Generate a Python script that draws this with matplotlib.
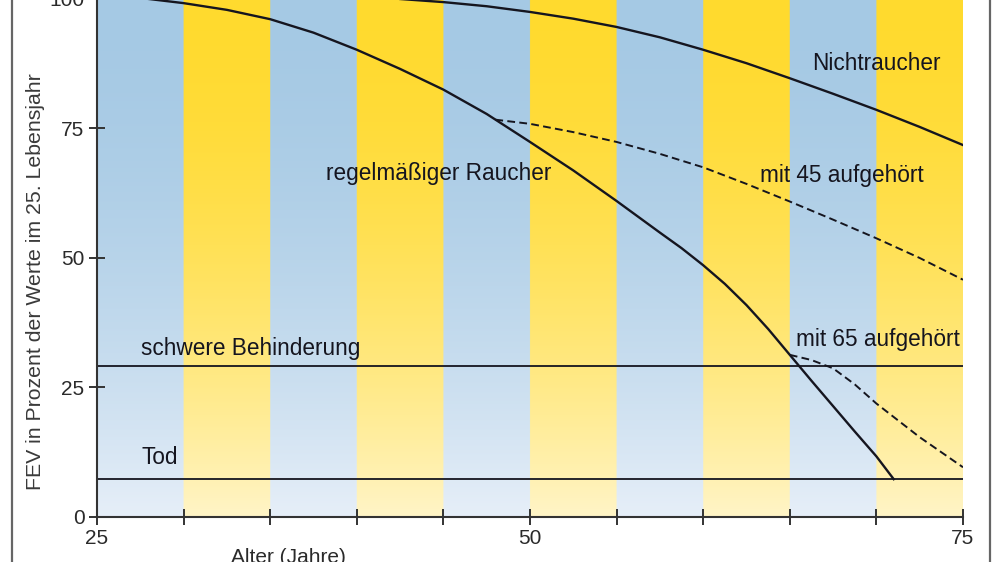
import matplotlib
matplotlib.use("Agg")
import matplotlib.pyplot as plt
import matplotlib.lines as mlines
import numpy as np

plt.rcParams['font.family'] = ['Liberation Sans', 'DejaVu Sans']

# ---------------------------------------------------------------
# data (age in years, FEV in % of age 25)
# ---------------------------------------------------------------
nonsmoker_age = [25, 40, 42.5, 45, 47.5, 50, 52.5, 55, 57.5, 60, 62.5, 65, 67.5, 70, 72.5, 75]
nonsmoker_fev = [101, 100.6, 100.0, 99.4, 98.6, 97.5, 96.2, 94.6, 92.6, 90.2, 87.6, 84.7, 81.7, 78.6, 75.3, 71.8]

smoker_age = [25, 28, 30, 32.5, 35, 37.5, 40, 42.5, 45, 47.5, 50, 52.5, 55, 57.5,
              58.75, 60, 61.25, 62.5, 63.75, 65, 66.25, 67.5, 68.75, 70, 71.0]
smoker_fev = [100.5, 100.0, 99.2, 97.9, 96.1, 93.5, 90.2, 86.5, 82.5, 77.8, 72.4, 66.9, 61.0, 54.9,
              51.9, 48.6, 45.0, 40.9, 36.3, 31.3, 26.3, 21.4, 16.5, 11.7, 7.3]

quit45_age = [48, 50, 52.5, 55, 57.5, 60, 62.5, 65, 67.5, 70, 72.5, 75]
quit45_fev = [76.7, 75.9, 74.3, 72.4, 70.1, 67.5, 64.3, 60.9, 57.4, 53.8, 50.0, 45.8]

quit65_age = [65, 66.25, 67.5, 68.75, 70, 72.5, 75]
quit65_fev = [31.3, 30.3, 28.7, 25.6, 21.9, 15.4, 9.6]

disability_level = 29.2
death_level = 7.3

x_ticks = [25, 30, 35, 40, 45, 50, 55, 60, 65, 70, 75]
x_tick_labels = ['25', '', '', '', '', '50', '', '', '', '', '75']
y_ticks = [0, 25, 50, 75, 100]

# colours
BLUE_TOP = np.array([165, 201, 228]) / 255
BLUE_LOW = np.array([236, 242, 250]) / 255
YELLOW_TOP = np.array([255, 218, 46]) / 255
YELLOW_LOW = np.array([255, 247, 212]) / 255
INK = '#15151f'


def stripe_background(ax):
    """Alternating blue / yellow 5-year bands fading out towards the bottom."""
    xs = np.linspace(25, 75, 1000, endpoint=False) + 0.025
    ys = np.linspace(0, 100, 300)
    band = ((xs - 25) // 5).astype(int) % 2          # 0 = blue, 1 = yellow
    fade = 0.92 * (1 - ys / 100) ** 1.8                 # 0 at top, strong at bottom
    img = np.zeros((len(ys), len(xs), 3))
    for top, low, k in ((BLUE_TOP, BLUE_LOW, 0), (YELLOW_TOP, YELLOW_LOW, 1)):
        col = top[None, :] * (1 - fade[:, None]) + low[None, :] * fade[:, None]
        img[:, band == k, :] = col[:, None, :]
    ax.imshow(img, extent=(25, 75, 0, 100), origin='lower', aspect='auto',
              interpolation='bilinear', zorder=0)


fig = plt.figure(figsize=(10, 5.62), dpi=100, facecolor='white')
ax = fig.add_axes([0.097, 0.0801, 0.866, 0.9217])
stripe_background(ax)

# curves
ax.plot(nonsmoker_age, nonsmoker_fev, color=INK, lw=1.7, zorder=3)
ax.plot(smoker_age, smoker_fev, color=INK, lw=1.7, zorder=3)
ax.plot(quit45_age, quit45_fev, color=INK, lw=1.4, ls=(0, (4, 2.2)), zorder=3)
ax.plot(quit65_age, quit65_fev, color=INK, lw=1.4, ls=(0, (4, 2.2)), zorder=3)

# thresholds
ax.axhline(disability_level, color=INK, lw=1.3, zorder=2)
ax.axhline(death_level, color=INK, lw=1.3, zorder=2)

# labels inside the plot
lab = dict(fontsize=16.3, color=INK, ha='center', va='center', zorder=4)
ax.text(70.0, 87.6, 'Nichtraucher', **lab)
ax.text(44.75, 66.4, 'regelmäßiger Raucher', **lab)
ax.text(68.0, 66.0, 'mit 45 aufgehört', **lab)
ax.text(70.1, 34.2, 'mit 65 aufgehört', **lab)
ax.text(33.9, 32.6, 'schwere Behinderung', **lab)
ax.text(28.6, 11.4, 'Tod', **lab)

# axes
ax.set_xlim(25, 75)
ax.set_ylim(0, 100)
for side in ('top', 'right'):
    ax.spines[side].set_visible(False)
for side in ('left', 'bottom'):
    ax.spines[side].set_color('#333333')
    ax.spines[side].set_linewidth(1.5)
ax.set_xticks(x_ticks)
ax.set_xticklabels(x_tick_labels)
ax.set_yticks(y_ticks)
ax.tick_params(axis='both', direction='inout', length=12, width=1.4,
               color='#333333', labelsize=15, labelcolor='#2a2a2a')
ax.tick_params(axis='x', pad=3)
ax.tick_params(axis='y', pad=3)

ax.set_ylabel('FEV in Prozent der Werte im 25. Lebensjahr', fontsize=15.3,
              color='#3a3a3a')
ax.yaxis.set_label_coords(-0.060, 0.455)
fig.text(0.288, 0.025, 'Alter (Jahre)', fontsize=15, color='#2a2a2a',
         ha='center', va='top')

# outer frame lines of the original figure
fig.add_artist(mlines.Line2D([0.012, 0.012], [0, 1], color='#666666', lw=1.6))
fig.add_artist(mlines.Line2D([0.990, 0.990], [0, 1], color='#666666', lw=1.6))

fig.savefig('out.png', dpi=100, facecolor='white')
